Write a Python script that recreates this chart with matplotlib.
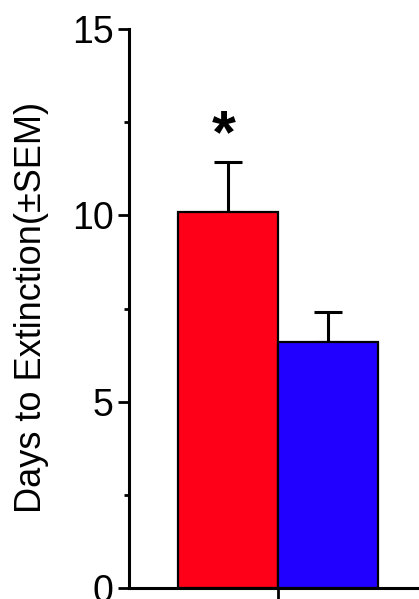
import matplotlib

matplotlib.use("Agg")
import matplotlib.pyplot as plt
from matplotlib.ticker import MultipleLocator

plt.rcParams["font.family"] = ["Liberation Sans", "DejaVu Sans"]

groups = ["A", "B"]
means = [10.09, 6.60]
sems = [1.34, 0.81]
colors = ["#ff0019", "#2200ff"]
y_label = "Days to Extinction(\u00b1SEM)"

fig = plt.figure(figsize=(4.19, 5.99), dpi=100)
ax = fig.add_axes([129 / 419, 1 - 588 / 599, 290 / 419, 559 / 599])

xpos = [-0.5, 0.5]
ax.bar(xpos, means, width=1.0, color=colors, edgecolor="black", linewidth=1.6,
       zorder=2)
ax.errorbar(xpos, means, yerr=[[0, 0], sems], fmt="none", ecolor="black",
            elinewidth=2.2, capsize=10, capthick=2.2, zorder=1)

ax.text(xpos[0] - 0.04, means[0] + sems[0] + 0.68, "*", ha="center",
        va="center", fontsize=44, fontweight="bold")

ax.set_xlim(-1.49, 1.41)
ax.set_ylim(0, 15)
ax.set_xticks([0])
ax.set_xticklabels([""])
ax.yaxis.set_major_locator(MultipleLocator(5))
ax.yaxis.set_minor_locator(MultipleLocator(2.5))
ax.tick_params(axis="y", which="major", direction="out", length=8, width=2,
               labelsize=27, pad=3)
ax.tick_params(axis="y", which="minor", direction="out", length=3.5, width=2)
ax.tick_params(axis="x", which="major", direction="out", length=8, width=2)

for side in ("top", "right"):
    ax.spines[side].set_visible(False)
for side in ("left", "bottom"):
    ax.spines[side].set_linewidth(2.2)

ax.set_ylabel(y_label, fontsize=26)
ax.yaxis.set_label_coords(-80 / 290, 0.502)

fig.savefig("out.png", dpi=100)
